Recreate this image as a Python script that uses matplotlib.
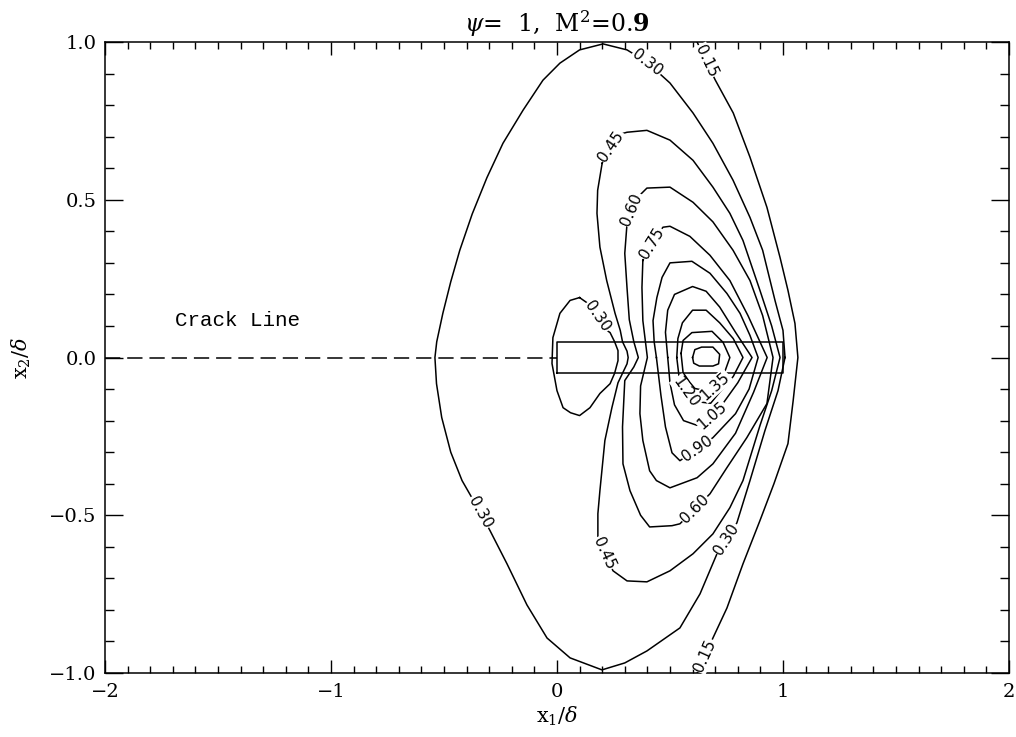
import numpy as np
import matplotlib.pyplot as plt

# contour traces, (x1/delta, x2/delta) pairs
c015 = [(0.62, 1.0), (0.66, 0.94), (0.70, 0.88), (0.78, 0.775), (0.854, 0.635),
        (0.929, 0.476), (0.987, 0.317), (1.022, 0.213), (1.053, 0.108), (1.066, 0.0),
        (1.045, -0.137), (1.022, -0.273), (0.96, -0.40), (0.898, -0.517),
        (0.823, -0.654), (0.752, -0.794), (0.69, -0.889), (0.655, -0.945), (0.62, -1.0)]

c030 = [(1.009, 0.0), (1.0, 0.086), (0.965, 0.18), (0.91, 0.34), (0.854, 0.444),
        (0.779, 0.562), (0.69, 0.679), (0.602, 0.775), (0.5, 0.87), (0.40, 0.935),
        (0.31, 0.975), (0.204, 0.994), (0.10, 0.975), (0.013, 0.933), (-0.062, 0.879),
        (-0.15, 0.784), (-0.239, 0.679), (-0.31, 0.57), (-0.375, 0.455), (-0.43, 0.34),
        (-0.47, 0.24), (-0.505, 0.14), (-0.532, 0.05), (-0.54, 0.0), (-0.533, -0.083),
        (-0.51, -0.19), (-0.47, -0.30), (-0.42, -0.39), (-0.34, -0.49), (-0.296, -0.549),
        (-0.221, -0.654), (-0.133, -0.784), (-0.044, -0.889), (0.058, -0.952),
        (0.199, -0.99), (0.30, -0.968), (0.398, -0.93), (0.544, -0.857), (0.633, -0.749),
        (0.708, -0.622), (0.75, -0.575), (0.796, -0.524), (0.854, -0.39),
        (0.92, -0.232), (0.978, -0.105), (1.009, 0.0)]

c030b = [(0.10, 0.19), (0.14, 0.17), (0.18, 0.13), (0.221, 0.086), (0.235, 0.079),
         (0.255, 0.05), (0.27, 0.022), (0.27, -0.01), (0.255, -0.05), (0.235, -0.083),
         (0.19, -0.114), (0.146, -0.159), (0.10, -0.184), (0.06, -0.175), (0.027, -0.159),
         (0.0, -0.105), (-0.022, -0.019), (-0.018, 0.063), (0.013, 0.14), (0.058, 0.181),
         (0.10, 0.19)]

c045 = [(0.20, 0.616), (0.24, 0.67), (0.29, 0.71), (0.31, 0.714), (0.398, 0.72),
        (0.5, 0.689), (0.602, 0.625), (0.69, 0.54), (0.765, 0.457), (0.823, 0.371),
        (0.898, 0.213), (0.95, 0.10), (0.987, 0.0), (0.95, -0.105), (0.898, -0.216),
        (0.823, -0.39), (0.765, -0.476), (0.69, -0.559), (0.602, -0.622), (0.5, -0.676),
        (0.398, -0.711), (0.31, -0.708), (0.248, -0.676), (0.21, -0.62), (0.181, -0.571),
        (0.181, -0.495), (0.19, -0.422), (0.212, -0.263), (0.243, -0.159), (0.27, -0.08),
        (0.29, -0.05), (0.31, -0.02), (0.315, 0.0), (0.31, 0.02), (0.29, 0.05),
        (0.28, 0.086), (0.257, 0.14), (0.22, 0.244), (0.19, 0.35), (0.177, 0.457),
        (0.18, 0.53), (0.20, 0.616)]

c060 = [(0.31, 0.425), (0.33, 0.47), (0.36, 0.51), (0.398, 0.537), (0.5, 0.54),
        (0.602, 0.492), (0.69, 0.43), (0.779, 0.34), (0.854, 0.244), (0.91, 0.133),
        (0.956, 0.0), (0.929, -0.146), (0.84, -0.254), (0.752, -0.349), (0.677, -0.432),
        (0.61, -0.48), (0.544, -0.527), (0.509, -0.533), (0.41, -0.537), (0.37, -0.50),
        (0.323, -0.422), (0.292, -0.337), (0.29, -0.22), (0.30, -0.073), (0.34, -0.03),
        (0.36, 0.0), (0.34, 0.05), (0.32, 0.12), (0.31, 0.22), (0.30, 0.33), (0.31, 0.425)]

c075 = [(0.38, 0.308), (0.42, 0.362), (0.469, 0.413), (0.5, 0.416), (0.588, 0.384),
        (0.677, 0.324), (0.765, 0.244), (0.845, 0.133), (0.93, 0.0), (0.87, -0.11),
        (0.79, -0.24), (0.69, -0.337), (0.62, -0.381), (0.5, -0.413), (0.44, -0.39),
        (0.41, -0.359), (0.38, -0.263), (0.367, -0.178), (0.37, -0.09), (0.40, 0.0),
        (0.38, 0.117), (0.376, 0.222), (0.38, 0.308)]

c090 = [(0.44, 0.0), (0.43, 0.05), (0.425, 0.117), (0.442, 0.19), (0.465, 0.254),
        (0.5, 0.30), (0.597, 0.305), (0.677, 0.267), (0.752, 0.203), (0.81, 0.14),
        (0.854, 0.07), (0.89, 0.0), (0.85, -0.1), (0.79, -0.178), (0.69, -0.254),
        (0.62, -0.29), (0.544, -0.327), (0.509, -0.302), (0.48, -0.22), (0.46, -0.12),
        (0.45, -0.06), (0.44, 0.0)]

c105 = [(0.49, 0.0), (0.48, 0.08), (0.49, 0.15), (0.52, 0.2), (0.60, 0.225),
        (0.66, 0.21), (0.72, 0.16), (0.79, 0.08), (0.863, 0.0), (0.80, -0.08),
        (0.74, -0.14), (0.686, -0.184), (0.62, -0.215), (0.56, -0.2), (0.52, -0.15),
        (0.50, -0.08), (0.49, 0.0)]

c120 = [(0.53, 0.0), (0.535, 0.06), (0.555, 0.11), (0.60, 0.15), (0.66, 0.15),
        (0.72, 0.11), (0.78, 0.06), (0.823, 0.0), (0.78, -0.06), (0.72, -0.11),
        (0.68, -0.145), (0.62, -0.14), (0.57, -0.11), (0.54, -0.06), (0.53, 0.0)]

c135 = [(0.549, 0.013), (0.558, 0.054), (0.597, 0.079), (0.686, 0.083), (0.735, 0.048),
        (0.765, 0.0), (0.74, -0.05), (0.70, -0.09), (0.655, -0.105), (0.61, -0.098),
        (0.588, -0.079), (0.558, -0.048), (0.549, 0.013)]

c150 = [(0.60, 0.0), (0.61, 0.025), (0.64, 0.033), (0.69, 0.033), (0.72, 0.01),
        (0.715, -0.02), (0.69, -0.027), (0.63, -0.027), (0.605, -0.018), (0.60, 0.0)]

# label text, traced line, anchor point
labels = [
    ('0.15', c015, (0.66, 0.94)), ('0.15', c015, (0.655, -0.945)),
    ('0.30', c030, (0.40, 0.935)), ('0.30', c030, (-0.34, -0.49)),
    ('0.30', c030, (0.75, -0.575)), ('0.30', c030b, (0.18, 0.13)),
    ('0.45', c045, (0.24, 0.67)), ('0.45', c045, (0.21, -0.62)),
    ('0.60', c060, (0.33, 0.47)), ('0.60', c060, (0.61, -0.48)),
    ('0.75', c075, (0.42, 0.362)), ('0.90', c090, (0.62, -0.29)),
    ('1.05', c105, (0.686, -0.184)), ('1.20', c120, (0.57, -0.11)),
    ('1.35', c135, (0.70, -0.09)),
]

crack_x = [-2.0, 0.0]
crack_y = [0.0, 0.0]
box_x = [0.0, 1.0, 1.0, 0.0, 0.0]
box_y = [-0.05, -0.05, 0.05, 0.05, -0.05]

plt.rcParams['mathtext.fontset'] = 'dejavuserif'
plt.rcParams['lines.scale_dashes'] = False

fig = plt.figure(figsize=(10.16, 7.37), dpi=100)
ax = fig.add_axes([0.1033, 0.0868, 0.8898, 0.8562])
ax.set_xlim(-2, 2)
ax.set_ylim(-1, 1)

for c in [c015, c030, c030b, c045, c060, c075, c090, c105, c120, c135, c150]:
    pts = np.array(c)
    ax.plot(pts[:, 0], pts[:, 1], color='black', lw=1.1)

ax.plot(crack_x, crack_y, color='black', lw=1.1, dashes=(11, 5))
ax.plot(box_x, box_y, color='black', lw=1.1)

# labels sit along the line, turned with the local slope
fig.canvas.draw()
for txt, c, (lx, ly) in labels:
    pts = ax.transData.transform(np.array(c))
    p0 = ax.transData.transform((lx, ly))
    i = np.argmin(np.hypot(*(pts - p0).T))
    j = min(i + 1, len(pts) - 1)
    k = max(i - 1, 0)
    d = pts[j] - pts[k]
    ang = np.degrees(np.arctan2(d[1], d[0]))
    if ang > 90:
        ang -= 180
    elif ang <= -90:
        ang += 180
    ax.text(lx, ly, txt, rotation=ang, rotation_mode='anchor', ha='center', va='center',
            fontsize=11, family='DejaVu Sans',
            bbox=dict(facecolor='white', edgecolor='none', pad=0.5))

ax.text(-1.69, 0.117, 'Crack Line', fontsize=15, family='Liberation Mono', va='center')

ax.set_xticks([-2, -1, 0, 1, 2])
ax.set_xticklabels(['\u22122', '\u22121', '0', '1', '2'])
ax.set_yticks([-1.0, -0.5, 0.0, 0.5, 1.0])
ax.set_yticklabels(['\u22121.0', '\u22120.5', '0.0', '0.5', '1.0'])
ax.set_xticks(np.arange(-2, 2.01, 0.1), minor=True)
ax.set_yticks(np.arange(-1, 1.01, 0.1), minor=True)
ax.tick_params(axis='both', which='both', direction='in', top=True, right=True,
               labelsize=14, width=1.0)
ax.tick_params(axis='x', which='major', length=9.5, pad=7)
ax.tick_params(axis='x', which='minor', length=4.7)
ax.tick_params(axis='y', which='major', length=13, pad=6)
ax.tick_params(axis='y', which='minor', length=6.5)
for lab in ax.get_xticklabels() + ax.get_yticklabels():
    lab.set_family('DejaVu Serif')
for s in ax.spines.values():
    s.set_linewidth(1.1)

ax.set_xlabel(r'$\mathrm{x}_1/\delta$', fontsize=15)
ax.set_ylabel(r'$\mathrm{x}_2/\delta$', fontsize=15)
ax.xaxis.set_label_coords(0.5, -0.05)
ax.yaxis.set_label_coords(-0.08, 0.5)
ax.text(0.5, 1.004, r'$\psi$=  1,  M$^2$=0.$\mathbf{9}$', transform=ax.transAxes,
        ha='center', va='bottom', fontsize=17, family='DejaVu Serif')

fig.savefig('out.png', dpi=100)
